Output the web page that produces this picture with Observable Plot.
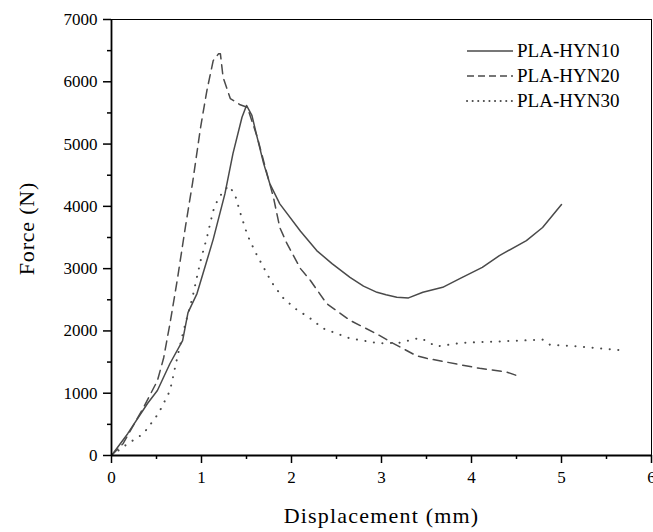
<!DOCTYPE html>
<html>
<head>
<meta charset="utf-8">
<script src="https://cdn.jsdelivr.net/npm/d3@7"></script>
<script src="https://cdn.jsdelivr.net/npm/@observablehq/plot@0.6"></script>
<style>
  html, body { margin: 0; padding: 0; background: #fff; }
  svg { font-family: "Liberation Serif", serif; }
</style>
</head>
<body>
<div id="chart"></div>
<script>
const seriesNames = ["PLA-HYN10", "PLA-HYN20", "PLA-HYN30"];

const hyn10X = [0, 0.18, 0.4, 0.51, 0.65, 0.79, 0.85, 0.95, 1.06, 1.13, 1.26, 1.35, 1.45, 1.50, 1.56, 1.62, 1.69, 1.76, 1.87, 2.10, 2.28, 2.45, 2.65, 2.80, 2.95, 3.05, 3.17, 3.30, 3.46, 3.68, 3.87, 4.12, 4.31, 4.61, 4.79, 5.0];
const hyn10F = [0, 350, 835, 1043, 1477, 1846, 2295, 2600, 3130, 3470, 4200, 4850, 5430, 5620, 5460, 5100, 4690, 4360, 4040, 3600, 3290, 3080, 2860, 2720, 2620, 2580, 2540, 2530, 2620, 2700, 2840, 3020, 3210, 3450, 3660, 4030];

const hyn20X = [0, 0.13, 0.355, 0.51, 0.58, 0.65, 0.73, 0.82, 0.9, 0.99, 1.06, 1.13, 1.19, 1.21, 1.24, 1.32, 1.43, 1.51, 1.62, 1.71, 1.80, 1.87, 1.95, 2.10, 2.21, 2.39, 2.65, 2.95, 3.13, 3.39, 3.50, 3.72, 4.09, 4.39, 4.51];
const hyn20F = [0, 193, 770, 1200, 1570, 2120, 2810, 3660, 4370, 5270, 5860, 6340, 6450, 6450, 6070, 5730, 5630, 5590, 5110, 4620, 4140, 3660, 3400, 3000, 2810, 2440, 2170, 1950, 1800, 1600, 1560, 1500, 1400, 1340, 1280];

const hyn30X = [0, 0.18, 0.355, 0.52, 0.65, 0.73, 0.80, 0.90, 0.99, 1.06, 1.13, 1.19, 1.30, 1.37, 1.43, 1.51, 1.60, 1.69, 1.78, 1.90, 2.04, 2.21, 2.35, 2.65, 2.98, 3.20, 3.43, 3.61, 3.90, 4.28, 4.79, 4.87, 5.2, 5.67];
const hyn30F = [0, 190, 350, 670, 1040, 1570, 2000, 2540, 3130, 3500, 3930, 4140, 4330, 4200, 3900, 3540, 3260, 3020, 2780, 2540, 2360, 2200, 2040, 1880, 1800, 1810, 1890, 1750, 1810, 1830, 1860, 1780, 1750, 1690];

const xTicks = [0, 1, 2, 3, 4, 5, 6];
const xMinorTicks = [0.5, 1.5, 2.5, 3.5, 4.5, 5.5];
const yTicks = [0, 1000, 2000, 3000, 4000, 5000, 6000, 7000];
const yMinorTicks = [500, 1500, 2500, 3500, 4500, 5500, 6500];

const xLabel = "Displacement (mm)";
const yLabel = "Force (N)";

const toRows = (xs, fs) => xs.map((x, i) => ({x, f: fs[i]}));
const rows10 = toRows(hyn10X, hyn10F);
const rows20 = toRows(hyn20X, hyn20F);
const rows30 = toRows(hyn30X, hyn30F);

const lineColor = "#4a4a4a";
const dashes = [null, "9,6", "0.1,8.5"];

const chart = Plot.plot({
  width: 653,
  height: 532,
  marginLeft: 111,
  marginRight: 2,
  marginTop: 19,
  marginBottom: 77,
  style: {fontFamily: "Liberation Serif, serif", background: "#fff"},
  x: {domain: [0, 6]},
  y: {domain: [0, 7000]},
  marks: [
    Plot.frame({stroke: "#000", strokeWidth: 1}),
    Plot.line(rows10, {x: "x", y: "f", stroke: lineColor, strokeWidth: 1.5}),
    Plot.line(rows20, {x: "x", y: "f", stroke: lineColor, strokeWidth: 1.5, strokeDasharray: dashes[1]}),
    Plot.line(rows30, {x: "x", y: "f", stroke: lineColor, strokeWidth: 2, strokeDasharray: dashes[2], strokeLinecap: "round"}),
    Plot.ruleX([0], {stroke: "#000", strokeWidth: 1.8}),
    Plot.ruleY([0], {stroke: "#000", strokeWidth: 1.8}),
    Plot.axisX({ticks: xTicks, tickSize: 8, tickPadding: 7, tickFormat: d => String(d), fontSize: 17, label: null, strokeWidth: 1.5}),
    Plot.axisX({ticks: xMinorTicks, tickSize: 4, tickFormat: () => "", label: null, strokeWidth: 1.5}),
    Plot.axisY({ticks: yTicks, tickSize: 8, tickPadding: 6, tickFormat: d => String(d), fontSize: 17, label: null, strokeWidth: 1.5}),
    Plot.axisY({ticks: yMinorTicks, tickSize: 4, tickFormat: () => "", label: null, strokeWidth: 1.5}),
    Plot.text([xLabel], {frameAnchor: "bottom", textAnchor: "middle", dy: 67, lineAnchor: "bottom", fontSize: 22, fill: "#000", text: d => d, className: "xlab"}),
    Plot.text([yLabel], {frameAnchor: "left", textAnchor: "middle", dx: -78, dy: -9, rotate: -90, lineAnchor: "bottom", fontSize: 22, fill: "#000", text: d => d, className: "ylab"})
  ]
});

const svg = d3.select(chart);
svg.selectAll(".xlab text").attr("letter-spacing", "1.2px");
svg.selectAll(".ylab text").attr("letter-spacing", "0.8px");

// Legend (inside the plot, top-right)
const legend = svg.append("g").attr("transform", "translate(467,51)");
seriesNames.forEach((name, i) => {
  const g = legend.append("g").attr("transform", `translate(0,${i * 25})`);
  g.append("line")
    .attr("x1", 0).attr("x2", 46).attr("y1", 0).attr("y2", 0)
    .attr("stroke", lineColor)
    .attr("stroke-width", i === 2 ? 2 : 1.5)
    .attr("stroke-linecap", i === 2 ? "round" : "butt")
    .attr("stroke-dasharray", i === 0 ? null : (i === 1 ? "7,4" : "0.1,5.5"));
  g.append("text")
    .attr("x", 50).attr("y", 0).attr("dy", "0.33em")
    .attr("text-anchor", "start")
    .attr("font-size", 19)
    .attr("fill", "#000")
    .text(name);
});

document.getElementById("chart").appendChild(chart);
</script>
</body>
</html>
